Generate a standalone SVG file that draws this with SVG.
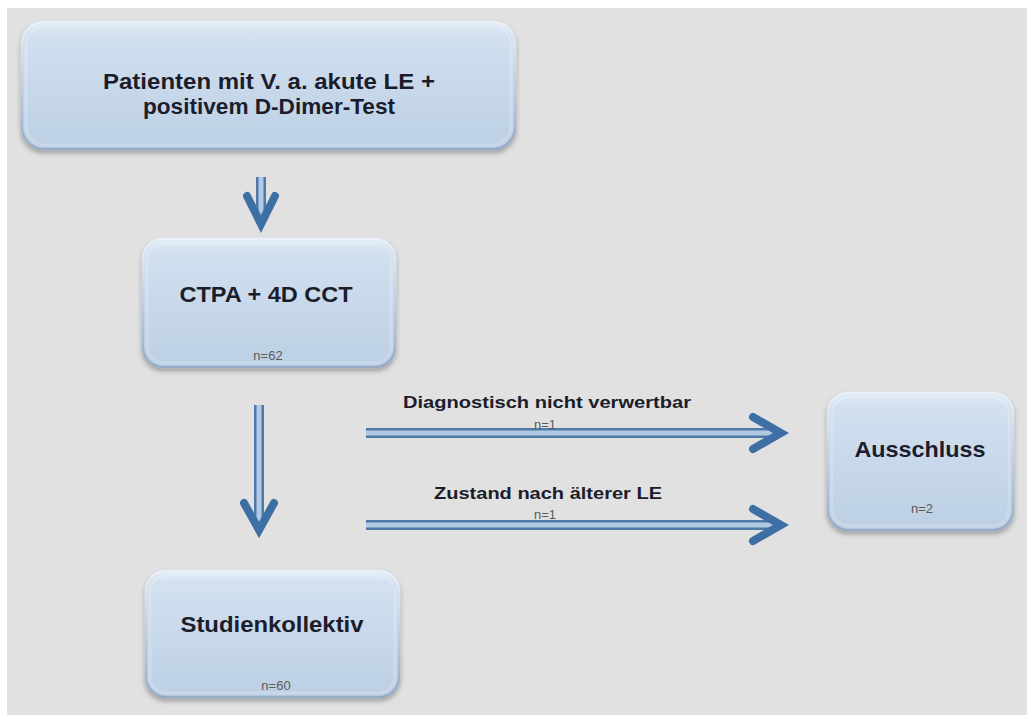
<svg xmlns="http://www.w3.org/2000/svg" width="1027" height="715" viewBox="0 0 1027 715">
<defs>
<linearGradient id="boxg" x1="0" y1="0" x2="0" y2="1">
<stop offset="0" stop-color="#e3ecf6"/>
<stop offset="0.1" stop-color="#d2e0ef"/>
<stop offset="0.6" stop-color="#c6d7ea"/>
<stop offset="1" stop-color="#bccfe4"/>
</linearGradient>
<linearGradient id="edgeg" x1="0" y1="0" x2="0" y2="1">
<stop offset="0" stop-color="#e9f0f8"/>
<stop offset="1" stop-color="#95abc5"/>
</linearGradient>
<filter id="sh" x="-10%" y="-10%" width="120%" height="130%">
<feDropShadow dx="0" dy="3" stdDeviation="2.5" flood-color="#000" flood-opacity="0.3"/>
</filter>
</defs>
<style>
.box{fill:url(#boxg);stroke:url(#edgeg);stroke-width:2.5;filter:url(#sh)}
.inner{fill:none;stroke:#ffffff;stroke-opacity:0.18;stroke-width:3}
.t{font-family:"Liberation Sans",Arial,sans-serif;font-weight:bold;fill:#1b1d2b;text-anchor:middle}
.big{font-size:22px}
.lbl{font-size:17px}
.n{font-family:"Liberation Sans",Arial,sans-serif;font-size:13px;fill:#5a5a5a;text-anchor:middle}
.sh1{stroke:#4f79a8;stroke-width:10;fill:none}
.sh2{stroke:#b2c9e3;stroke-width:5;fill:none}
.hd{stroke:#3e6fa4;stroke-width:8;fill:none;stroke-linecap:round;stroke-linejoin:miter}
</style>
<rect x="0" y="0" width="1027" height="715" fill="#ffffff"/>
<rect x="7" y="8" width="1020" height="707" fill="#e1e1e1"/>

<g id="connectors">
<line class="sh1" x1="261" y1="177" x2="261" y2="220"/>
<line class="sh2" x1="261" y1="177" x2="261" y2="220"/>
<polyline class="hd" points="247,196 261,224 275,196"/>

<line class="sh1" x1="259" y1="405" x2="259" y2="527"/>
<line class="sh2" x1="259" y1="405" x2="259" y2="527"/>
<polyline class="hd" points="244,503 259,530 274,503"/>

<line class="sh1" x1="366" y1="433" x2="777" y2="433"/>
<line class="sh2" x1="366" y1="433" x2="777" y2="433"/>
<polyline class="hd" points="753,417 781,433 753,449"/>

<line class="sh1" x1="366" y1="525" x2="777" y2="525"/>
<line class="sh2" x1="366" y1="525" x2="777" y2="525"/>
<polyline class="hd" points="753,509 781,525 753,541"/>

<text class="t lbl" x="547" y="408" textLength="288" lengthAdjust="spacingAndGlyphs">Diagnostisch nicht verwertbar</text>
<text class="n" x="545" y="429">n=1</text>
<text class="t lbl" x="548" y="499" textLength="228" lengthAdjust="spacingAndGlyphs">Zustand nach älterer LE</text>
<text class="n" x="545" y="519">n=1</text>
</g>

<g id="node-patienten">
<rect class="box" x="22" y="22" width="493" height="127" rx="22"/>
<rect class="inner" x="26" y="26" width="485" height="119" rx="19"/>
<text class="t big" x="269" y="89" textLength="332" lengthAdjust="spacingAndGlyphs">Patienten mit V. a. akute LE +</text>
<text class="t big" x="269" y="114" textLength="252" lengthAdjust="spacingAndGlyphs">positivem D-Dimer-Test</text>
</g>

<g id="node-ctpa">
<rect class="box" x="143" y="239" width="252" height="128" rx="20"/>
<rect class="inner" x="147" y="243" width="244" height="120" rx="17"/>
<text class="t big" x="266" y="302" textLength="173" lengthAdjust="spacingAndGlyphs">CTPA + 4D CCT</text>
<text class="n" x="268" y="360">n=62</text>
</g>

<g id="node-studien">
<rect class="box" x="146" y="571" width="253" height="126" rx="20"/>
<rect class="inner" x="150" y="575" width="245" height="118" rx="17"/>
<text class="t big" x="272" y="632" textLength="183" lengthAdjust="spacingAndGlyphs">Studienkollektiv</text>
<text class="n" x="276" y="690">n=60</text>
</g>

<g id="node-ausschluss">
<rect class="box" x="828" y="393" width="185" height="137" rx="20"/>
<rect class="inner" x="832" y="397" width="177" height="129" rx="17"/>
<text class="t big" x="920" y="457" textLength="131" lengthAdjust="spacingAndGlyphs">Ausschluss</text>
<text class="n" x="922" y="513">n=2</text>
</g>
</svg>
